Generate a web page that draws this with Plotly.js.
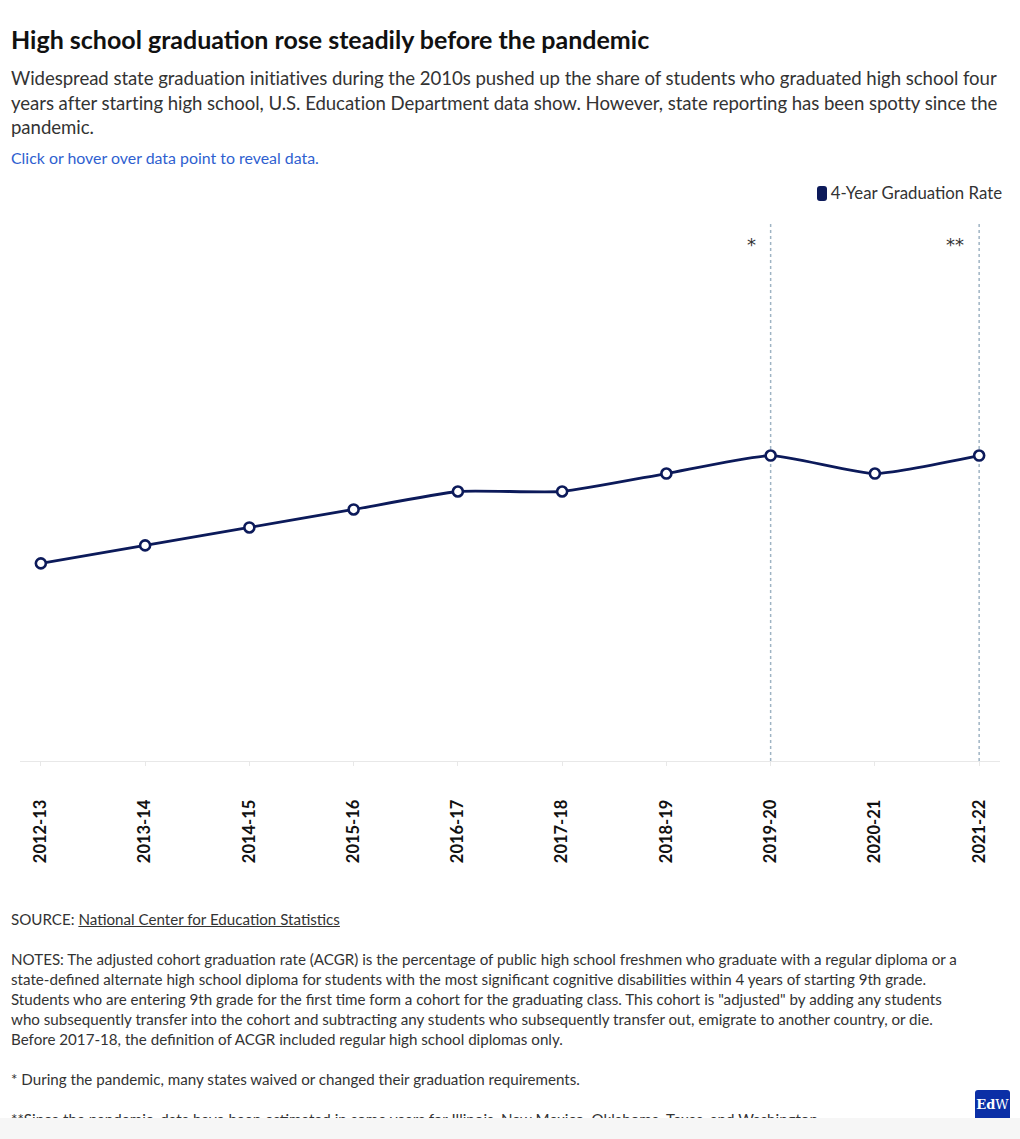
<!DOCTYPE html>
<html>
<head>
<meta charset="utf-8">
<script src="https://cdn.plot.ly/plotly-3.0.1.min.js"></script>
<style>
  html, body { margin:0; padding:0; background:#fff; }
  body { width:1020px; height:1139px; position:relative; overflow:hidden; font-family: Lato, "Noto Sans", sans-serif; }
  .abs { position:absolute; left:11px; white-space:nowrap; }
  #title { top:24px; font-size:25px; line-height:30px; font-weight:700; color:#111; }
  #sub { top:66px; font-size:18.6px; line-height:24.5px; color:#333; letter-spacing:-0.05px; }
  #hint { top:148px; font-size:15.9px; line-height:20px; color:#2f5fd0; }
  #legend { position:absolute; right:18px; top:183px; font-size:16.8px; line-height:20px; color:#333; white-space:nowrap; z-index:4; }
  #legend .sw { display:inline-block; width:10px; height:15px; background:#0c1a5a; border-radius:3px; vertical-align:-2px; margin-right:4px; }
  #chart { position:absolute; left:0; top:180px; width:1020px; height:700px; z-index:1; }
  .foot { font-size:15.15px; line-height:20px; color:#333; }
  #src { top:909px; }
  #src a { color:#333; text-decoration:underline; }
  #notes { top:949px; }
  #n1 { top:1069px; }
  #n2 { top:1109px; }
  #bar { position:absolute; left:0; top:1118px; width:1020px; height:21px; background:#f6f6f6; z-index:5; }
  #logo { position:absolute; left:975px; top:1090px; width:35px; height:28px; background:#0b2fa6; border-radius:3px 3px 0 0; color:#fff; font-family:"DejaVu Serif", "Liberation Serif", serif; font-size:13px; line-height:30px; text-align:center; z-index:6; }
</style>
</head>
<body>
<div id="title" class="abs">High school graduation rose steadily before the pandemic</div>
<div id="sub" class="abs">Widespread state graduation initiatives during the 2010s pushed up the share of students who graduated high school four<br>years after starting high school, U.S. Education Department data show. However, state reporting has been spotty since the<br>pandemic.</div>
<div id="hint" class="abs">Click or hover over data point to reveal data.</div>
<div id="legend"><span class="sw"></span>4-Year Graduation Rate</div>
<div id="chart"></div>
<div id="src" class="abs foot">SOURCE: <a href="#">National Center for Education Statistics</a></div>
<div id="notes" class="abs foot">NOTES: The adjusted cohort graduation rate (ACGR) is the percentage of public high school freshmen who graduate with a regular diploma or a<br>state-defined alternate high school diploma for students with the most significant cognitive disabilities within 4 years of starting 9th grade.<br>Students who are entering 9th grade for the first time form a cohort for the graduating class. This cohort is "adjusted" by adding any students<br>who subsequently transfer into the cohort and subtracting any students who subsequently transfer out, emigrate to another country, or die.<br>Before 2017-18, the definition of ACGR included regular high school diplomas only.</div>
<div id="n1" class="abs foot">* During the pandemic, many states waived or changed their graduation requirements.</div>
<div id="n2" class="abs foot">**Since the pandemic, data have been estimated in some years for Illinois, New Mexico, Oklahoma, Texas, and Washington.</div>
<div id="bar"></div>
<div id="logo"><b>Ed</b>W</div>
<script>
const years = ["2012-13","2013-14","2014-15","2015-16","2016-17","2017-18","2018-19","2019-20","2020-21","2021-22"];
const gradRate = [81, 82, 83, 84, 85, 85, 86, 87, 86, 87];
const markedYears = ["2019-20", "2021-22"];
const markLabels = ["*", "**"];

const navy = "#0c1a5a";
const trace = {
  x: years, y: gradRate, type: "scatter", mode: "lines+markers",
  name: "4-Year Graduation Rate",
  line: { color: navy, width: 2.8, shape: "spline", smoothing: 0.5 },
  marker: { size: 10, color: "#ffffff", line: { color: navy, width: 2.6 } },
  showlegend: false,
  hovertemplate: "%{x}: %{y}%<extra></extra>"
};
const shapes = markedYears.map(y => ({
  type: "line", xref: "x", yref: "paper", x0: y, x1: y, y0: 0, y1: 1,
  line: { color: "#9fb4c4", width: 1.5, dash: "dot" }, layer: "below"
}));
const annotations = markedYears.map((y, i) => ({
  x: y, xref: "x", y: 1, yref: "paper", yanchor: "top", xanchor: "right",
  text: markLabels[i], showarrow: false, xshift: -13, yshift: -10,
  font: { size: 18, color: "#333", family: "DejaVu Sans, sans-serif" }
}));
const layout = {
  width: 1020, height: 700,
  margin: { l: 20, r: 20, t: 42, b: 119 },
  paper_bgcolor: "rgba(0,0,0,0)", plot_bgcolor: "rgba(0,0,0,0)",
  showlegend: false,
  xaxis: {
    type: "category", range: [-0.2, 9.2], fixedrange: true,
    showgrid: false, zeroline: false, showline: true, linecolor: "#e8e8e8", linewidth: 1,
    ticks: "outside", ticklen: 4, tickcolor: "#e8e8e8",
    tickangle: -90, ticklabelstandoff: 27,
    tickfont: { family: "Lato, sans-serif", size: 16.5, color: "#111", weight: 700 }
  },
  yaxis: {
    range: [70, 100], fixedrange: true, showgrid: false, zeroline: false,
    showline: false, showticklabels: false, ticks: ""
  },
  shapes: shapes, annotations: annotations
};
Plotly.newPlot("chart", [trace], layout, { displayModeBar: false, responsive: false });
</script>
</body>
</html>
